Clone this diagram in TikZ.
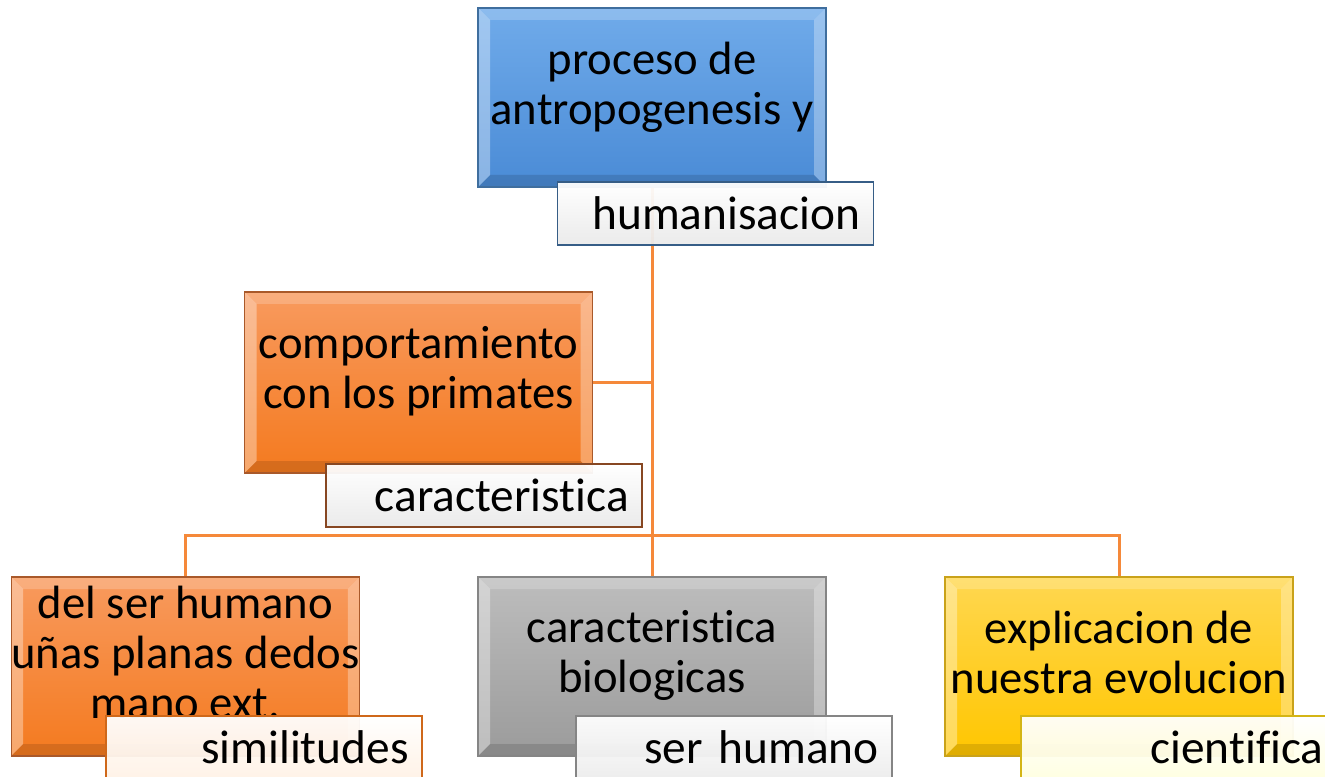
\documentclass[tikz,border=0pt]{standalone}
\usepackage{fontspec}
\setmainfont{Carlito}[Ligatures={NoCommon}]
\usetikzlibrary{backgrounds}

\definecolor{wire}{HTML}{F5893A}
\definecolor{blueT}{HTML}{70ABEA}
\definecolor{blueB}{HTML}{4A8BD6}
\definecolor{blueR}{HTML}{3F6E9E}
\definecolor{orngT}{HTML}{F89A5E}
\definecolor{orngB}{HTML}{F47A1F}
\definecolor{orngR}{HTML}{A9592A}
\definecolor{gryT}{HTML}{BDBDBD}
\definecolor{gryB}{HTML}{9B9B9B}
\definecolor{gryR}{HTML}{858585}
\definecolor{ylwT}{HTML}{FFD750}
\definecolor{ylwB}{HTML}{FFC600}
\definecolor{ylwR}{HTML}{C9A21A}

\begin{document}
\begin{tikzpicture}[x=0.75pt, y=-0.75pt]
  \tikzset{
    bevel/.style={path picture={
      \fill [white, opacity=.35] (path picture bounding box.north west) --
        (path picture bounding box.south west) --
        ([shift={(9pt,9pt)}]path picture bounding box.south west) --
        ([shift={(9pt,-9pt)}]path picture bounding box.north west) -- cycle;
      \fill [white, opacity=.2] (path picture bounding box.north west) --
        (path picture bounding box.north east) --
        ([shift={(-9pt,-9pt)}]path picture bounding box.north east) --
        ([shift={(9pt,-9pt)}]path picture bounding box.north west) -- cycle;
      \fill [white, opacity=.3] (path picture bounding box.north east) --
        (path picture bounding box.south east) --
        ([shift={(-9pt,9pt)}]path picture bounding box.south east) --
        ([shift={(-9pt,-9pt)}]path picture bounding box.north east) -- cycle;
      \fill [black, opacity=.12] (path picture bounding box.south west) --
        (path picture bounding box.south east) --
        ([shift={(-9pt,9pt)}]path picture bounding box.south east) --
        ([shift={(9pt,9pt)}]path picture bounding box.south west) -- cycle;
    }},
    box/.style={draw, line width=1pt, align=center, inner xsep=0pt,
      inner ysep=2pt, minimum width=261pt, minimum height=134.25pt,
      text depth=22pt, font=\fontsize{35}{37.5}\selectfont, bevel},
    tag/.style={draw, line width=1.2pt, fill opacity=.95, text opacity=1,
      inner xsep=10pt, inner ysep=0pt, text width=217pt, align=right,
      minimum height=47.25pt, font=\fontsize{35.5}{38}\selectfont},
    box-blue/.style={top color=blueT, bottom color=blueB, draw=blueR},
    box-orng/.style={top color=orngT, bottom color=orngB, draw=orngR},
    box-gry/.style={top color=gryT, bottom color=gryB, draw=gryR},
    box-ylw/.style={top color=ylwT, bottom color=ylwB, draw=ylwR},
    tag-blue/.style={top color=white, bottom color=black!8, draw=blueR!85!black},
    tag-brwn/.style={top color=white, bottom color=black!8, draw=orngR!80!black},
    tag-orng/.style={top color=white, bottom color=orange!10, draw=orngB!85!black},
    tag-gry/.style={top color=white, bottom color=black!7, draw=gryR},
    tag-ylw/.style={top color=white, bottom color=yellow!12, draw=ylwR!80!yellow},
    link/.style={draw=wire, line width=2.25pt},
  }
  \useasboundingbox (0,0) rectangle (1325,777);
  %
  \node [box, box-blue] (top) at (652,97.5) {proceso de\\antropogenesis y};
  \node [tag, tag-blue] (topt) at (715.5,213.5) {humanisacion};
  %
  \node [box, box-orng, minimum height=135.75pt] (mid) at (418.5,382.5)
    {comportamiento\\con los primates};
  \node [tag, tag-brwn] (midt) at (484,495.5) {caracteristica};
  %
  % bottom row
  \foreach \i/\cx/\tx/\s/\txt/\ttxt in {
      1/185.5/264/orng/{del ser humano\\uñas planas dedos\\mano ext.}/similitudes,
      2/652/734/gry/{caracteristica\\biologicas}/ser humano,
      3/1119/1179/ylw/{explicacion de\\nuestra evolucion}/cientifica} {
    \node [box, box-\s] (b\i) at (\cx,666.5) {\txt};
    \node [tag, tag-\s] (b\i t) at (\tx,747.5) {\ttxt};
  }
  %
  \begin{scope}[on background layer]
    \fill [white] (0,0) rectangle (1325,777);
    \coordinate (bus) at (652,535);
    \draw [link] (top.south) -- (bus);
    \draw [link] (mid.east) -| (top.south);
    \foreach \i in {1,...,3} {
      \draw [link] (bus) -| (b\i.north);
    }
  \end{scope}
\end{tikzpicture}
\end{document}
